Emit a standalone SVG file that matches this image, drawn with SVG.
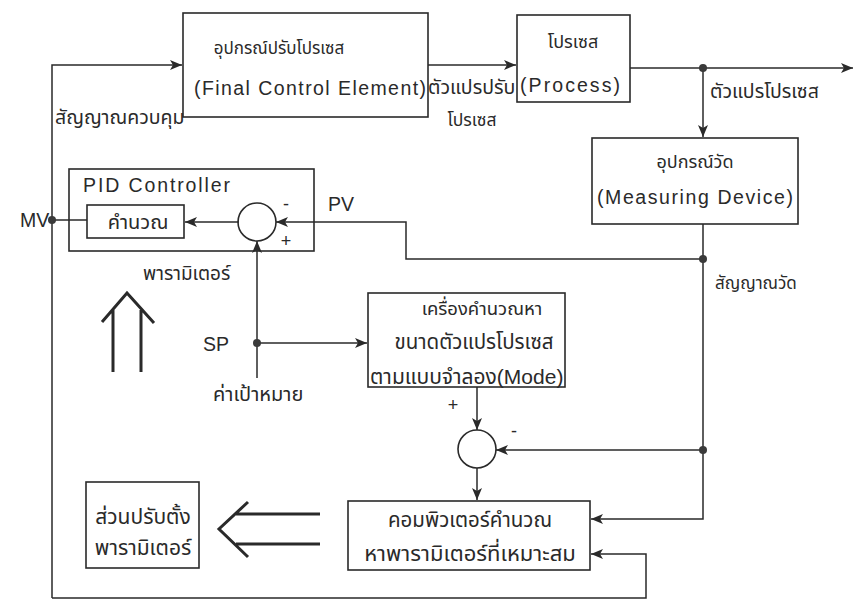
<svg xmlns="http://www.w3.org/2000/svg" width="855" height="601" viewBox="0 0 855 601">
<style>
.bx{fill:none;stroke:#2a2a2a;stroke-width:1.6}
.ln{fill:none;stroke:#2a2a2a;stroke-width:1.5}
.big{fill:none;stroke:#2a2a2a;stroke-width:3}
.dot{fill:#3a3a3a}
text{font-family:"Liberation Sans","Noto Sans Thai","Noto Sans",sans-serif;fill:#2a2a2a}
.en{font-size:19.5px}
.sg{font-size:18px}
</style>
<defs>
<marker id="ah" viewBox="0 0 12 10" refX="12" refY="5" markerWidth="12" markerHeight="10" markerUnits="userSpaceOnUse" orient="auto">
<path d="M0,0 L12,5 L0,10 L3,5 Z" fill="#2a2a2a"/>
</marker>
</defs>
<rect width="855" height="601" fill="#ffffff"/>
<g id="connectors">
<path class="ln" d="M52,598 V65 H182" marker-end="url(#ah)"/>
<path class="ln" d="M52,598 H646 V554 H591" marker-end="url(#ah)"/>
<path class="ln" d="M428,65 H516" marker-end="url(#ah)"/>
<path class="ln" d="M630,68 H853" marker-end="url(#ah)"/>
<path class="ln" d="M703,68 V137" marker-end="url(#ah)"/>
<path class="ln" d="M703,224 V519 H591" marker-end="url(#ah)"/>
<path class="ln" d="M703,259 H406 V222 H276" marker-end="url(#ah)"/>
<path class="ln" d="M703,450 H496" marker-end="url(#ah)"/>
<path class="ln" d="M239,222 H185" marker-end="url(#ah)"/>
<path class="ln" d="M52,220 H87"/>
<path class="ln" d="M257,378 V241" marker-end="url(#ah)"/>
<path class="ln" d="M257,343 H367" marker-end="url(#ah)"/>
<path class="ln" d="M477,387 V430" marker-end="url(#ah)"/>
<path class="ln" d="M477,468 V500" marker-end="url(#ah)"/>
<circle class="dot" cx="703" cy="68" r="4"/>
<circle class="dot" cx="703" cy="259" r="4"/>
<circle class="dot" cx="703" cy="450" r="4"/>
<circle class="dot" cx="52" cy="220" r="4"/>
<circle class="dot" cx="257" cy="343" r="4"/>
<path class="big" d="M113,310 V372 M141,310 V372 M102,322 L127,293 L154,323"/>
<path class="big" d="M236,514 H320 M236,544 H320 M248,502 L219,529 L248,557"/>
</g>
<g id="final-control-element">
<rect class="bx" x="183" y="13" width="245" height="104"/>
<text x="279" y="54" font-size="17" text-anchor="middle">อุปกรณ์ปรับโปรเซส</text>
<text class="en" x="194" y="95" textLength="232" lengthAdjust="spacing">(Final Control Element)</text>
</g>
<g id="process">
<rect class="bx" x="517" y="15" width="113" height="87"/>
<text x="573" y="48" font-size="18" text-anchor="middle">โปรเซส</text>
<text class="en" x="520" y="92" textLength="100" lengthAdjust="spacing">(Process)</text>
</g>
<g id="measuring-device">
<rect class="bx" x="592" y="138" width="206" height="86"/>
<text x="695" y="168" font-size="18" text-anchor="middle">อุปกรณ์วัด</text>
<text class="en" x="597" y="204" textLength="196" lengthAdjust="spacing">(Measuring Device)</text>
</g>
<g id="pid-controller">
<rect class="bx" x="69" y="169" width="245" height="82"/>
<text class="en" x="83" y="192" textLength="147" lengthAdjust="spacing">PID  Controller</text>
</g>
<g id="calc">
<rect class="bx" x="87" y="205" width="97" height="33"/>
<text x="138" y="229" font-size="20" text-anchor="middle">คำนวณ</text>
</g>
<g id="sum1">
<circle class="bx" cx="257" cy="222" r="19"/>
<text class="sg" x="286" y="210" text-anchor="middle">-</text>
<text class="sg" x="286" y="247" text-anchor="middle">+</text>
</g>
<g id="model">
<rect class="bx" x="368" y="293" width="197" height="94"/>
<text x="482" y="315" font-size="18.5" text-anchor="middle">เครื่องคำนวณหา</text>
<text x="474" y="349" font-size="20.5" text-anchor="middle">ขนาดตัวแปรโปรเซส</text>
<text x="370" y="384" font-size="21">ตามแบบจำลอง(Mode)</text>
</g>
<g id="sum2">
<circle class="bx" cx="477" cy="449" r="19"/>
<text class="sg" x="453" y="411" text-anchor="middle">+</text>
<text class="sg" x="514" y="437" text-anchor="middle">-</text>
</g>
<g id="computer">
<rect class="bx" x="348" y="501" width="242" height="69"/>
<text x="470" y="527" font-size="20.5" text-anchor="middle">คอมพิวเตอร์คำนวณ</text>
<text x="470" y="561" font-size="22" text-anchor="middle">หาพารามิเตอร์ที่เหมาะสม</text>
</g>
<g id="tuner">
<rect class="bx" x="86" y="482" width="113" height="86"/>
<text x="143" y="524" font-size="21" text-anchor="middle">ส่วนปรับตั้ง</text>
<text x="143" y="555" font-size="21" text-anchor="middle">พารามิเตอร์</text>
</g>
<g id="labels">
<text x="55" y="124" font-size="19.5">สัญญาณควบคุม</text>
<text x="428" y="94" font-size="19.5">ตัวแปรปรับ</text>
<text x="472" y="126" font-size="17.5" text-anchor="middle">โปรเซส</text>
<text x="710" y="98" font-size="19.5">ตัวแปรโปรเซส</text>
<text x="715" y="289" font-size="17">สัญญาณวัด</text>
<text class="en" x="20" y="227">MV</text>
<text class="en" x="328" y="211">PV</text>
<text x="143" y="280" font-size="19">พารามิเตอร์</text>
<text class="en" x="203" y="351">SP</text>
<text x="213" y="401" font-size="20">ค่าเป้าหมาย</text>
</g>
</svg>
